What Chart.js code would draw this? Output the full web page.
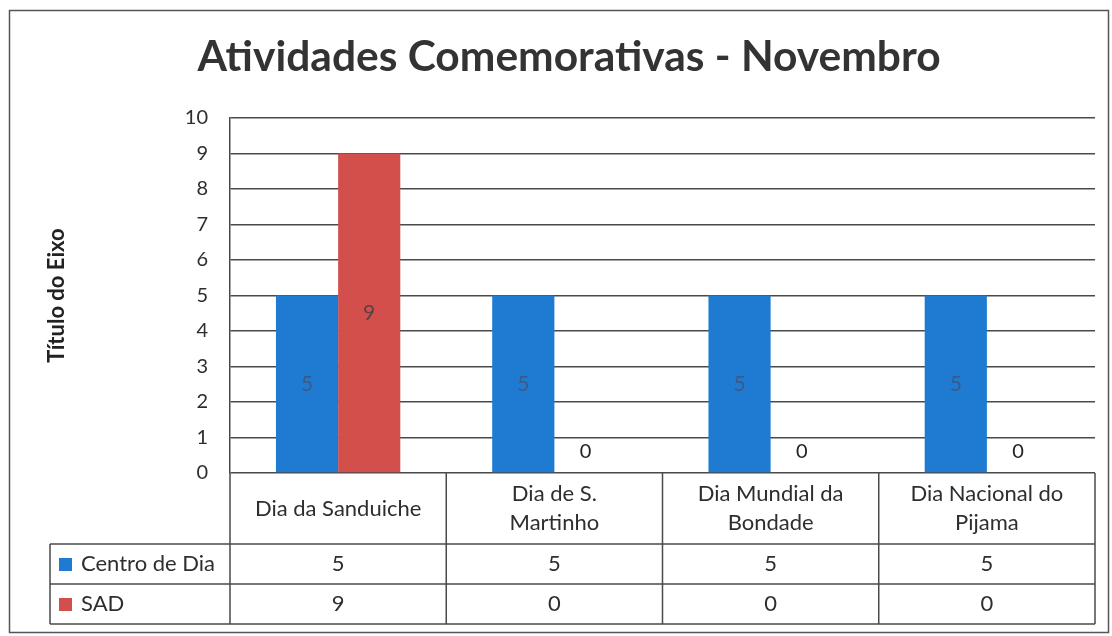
<!DOCTYPE html>
<html>
<head>
<meta charset="utf-8">
<script src="https://cdn.jsdelivr.net/npm/chart.js@4.4.0/dist/chart.umd.min.js"></script>
<style>
html,body{margin:0;padding:0;background:#fff;}
#wrap{width:1112px;height:636px;position:relative;}
</style>
</head>
<body>
<div id="wrap"><canvas id="c" width="1112" height="636"></canvas></div>
<script>
// ---- data ----
const chartTitle = 'Atividades Comemorativas - Novembro';
const axisTitle = 'Título do Eixo';
const categories = [
  ['Dia da Sanduiche'],
  ['Dia de S.', 'Martinho'],
  ['Dia Mundial da', 'Bondade'],
  ['Dia Nacional do', 'Pijama']
];
const seriesNames = ['Centro de Dia', 'SAD'];
const centroDeDia = [5, 5, 5, 5];
const sad = [9, 0, 0, 0];
const yMin = 0, yMax = 10, yStep = 1;

// ---- styles ----
const FONT = 'Lato, "Open Sans", sans-serif';
const BLUE = '#1f7bd2';
const RED = '#d24f4c';
const LINE = '#4a4a4a';
const TEXT = '#2e2e2e';

const framePlugin = {
  id: 'frame',
  beforeDraw(chart) {
    const ctx = chart.ctx;
    ctx.save();
    ctx.fillStyle = '#fff';
    ctx.fillRect(0, 0, chart.width, chart.height);
    ctx.strokeStyle = '#555';
    ctx.lineWidth = 1.5;
    ctx.strokeRect(9.5, 10.5, 1099, 622);
    ctx.restore();
  }
};

const labelPlugin = {
  id: 'barLabels',
  afterDatasetsDraw(chart) {
    const ctx = chart.ctx;
    ctx.save();
    ctx.textAlign = 'center';
    ctx.textBaseline = 'middle';
    chart.data.datasets.forEach((ds, di) => {
      const meta = chart.getDatasetMeta(di);
      meta.data.forEach((bar, i) => {
        const v = ds.data[i];
        if (v === 0) {
          ctx.font = '20px ' + FONT;
          ctx.fillStyle = '#222';
          ctx.fillText(String(v), bar.x, bar.base - 21);
        } else {
          ctx.font = '21px ' + FONT;
          ctx.fillStyle = di === 0 ? '#3d5a86' : '#5a4242';
          ctx.fillText(String(v), bar.x, (bar.y + bar.base) / 2);
        }
      });
    });
    ctx.restore();
  }
};

const tablePlugin = {
  id: 'dataTable',
  afterDraw(chart) {
    const ctx = chart.ctx;
    const xs = chart.scales.x;
    const area = chart.chartArea;
    const n = categories.length;
    const colW = (area.right - area.left) / n;
    const top = area.bottom;
    const hdrBottom = top + 71;
    const rowH = 40;
    const rowsBottom = hdrBottom + rowH * seriesNames.length;
    const legendLeft = 50;
    ctx.save();
    ctx.strokeStyle = LINE;
    ctx.lineWidth = 1.5;
    const line = (x1, y1, x2, y2) => { ctx.beginPath(); ctx.moveTo(x1, y1); ctx.lineTo(x2, y2); ctx.stroke(); };
    for (let r = 0; r <= seriesNames.length; r++) {
      const y = hdrBottom + r * rowH;
      line(legendLeft, y, area.right, y);
    }
    for (let i = 0; i <= n; i++) {
      const xi = i < n ? xs.getPixelForValue(i) - colW / 2 : xs.getPixelForValue(n - 1) + colW / 2;
      line(xi, top, xi, rowsBottom);
    }
    line(legendLeft, hdrBottom, legendLeft, rowsBottom);

    ctx.fillStyle = TEXT;
    ctx.font = '22px ' + FONT;
    ctx.textAlign = 'center';
    ctx.textBaseline = 'middle';
    const hdrMid = (top + hdrBottom) / 2;
    categories.forEach((lines, i) => {
      const cx = xs.getPixelForValue(i);
      lines.forEach((t, k) => {
        ctx.fillText(t, cx, hdrMid + (k - (lines.length - 1) / 2) * 29);
      });
    });
    const seriesData = [centroDeDia, sad];
    const colors = [BLUE, RED];
    seriesData.forEach((arr, r) => {
      const cy = hdrBottom + r * rowH + rowH / 2;
      arr.forEach((v, i) => {
        ctx.fillStyle = TEXT;
        ctx.textAlign = 'center';
        ctx.fillText(String(v), xs.getPixelForValue(i), cy);
      });
      ctx.fillStyle = colors[r];
      ctx.fillRect(59, cy - 6, 13, 13);
      ctx.fillStyle = TEXT;
      ctx.textAlign = 'left';
      ctx.fillText(seriesNames[r], 81, cy);
    });
    ctx.restore();
  }
};

new Chart(document.getElementById('c'), {
  type: 'bar',
  data: {
    labels: categories,
    datasets: [
      { label: seriesNames[0], data: centroDeDia, backgroundColor: BLUE, borderWidth: 0 },
      { label: seriesNames[1], data: sad, backgroundColor: RED, borderWidth: 0 }
    ]
  },
  options: {
    responsive: false,
    animation: false,
    devicePixelRatio: 1,
    layout: { padding: { left: 43, right: 17, top: 0, bottom: 163 } },
    datasets: { bar: { barPercentage: 1, categoryPercentage: 0.575 } },
    plugins: {
      legend: { display: false },
      tooltip: { enabled: false },
      title: {
        display: true,
        text: chartTitle,
        color: '#333',
        font: { family: FONT, size: 42.5, weight: 'bold' },
        padding: { top: 32, bottom: 35 }
      }
    },
    scales: {
      x: { display: false },
      y: {
        min: yMin, max: yMax,
        ticks: { stepSize: yStep, color: TEXT, padding: 22, font: { family: FONT, size: 20 } },
        grid: { color: LINE, lineWidth: 1.5, drawTicks: false },
        border: { display: true, color: LINE, width: 1.5 },
        title: { display: true, text: axisTitle, color: '#222', font: { family: FONT, size: 22, weight: 'bold' }, padding: { top: 1, bottom: 0 } },
        afterFit(scale) { scale.width = 187; }
      }
    }
  },
  plugins: [framePlugin, labelPlugin, tablePlugin]
});
</script>
</body>
</html>
